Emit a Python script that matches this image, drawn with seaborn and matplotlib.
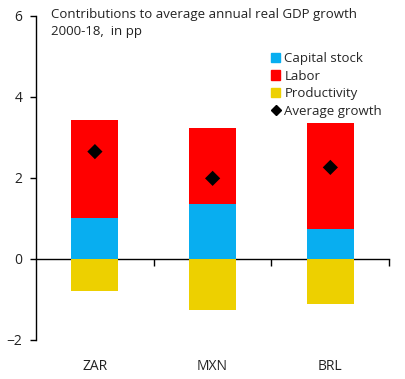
import matplotlib
matplotlib.use("Agg")
import matplotlib.pyplot as plt
from matplotlib.patches import Patch
from matplotlib.lines import Line2D
import seaborn as sns
import pandas as pd

# values (pp)
countries = ["ZAR", "MXN", "BRL"]
capital = [1.02, 1.36, 0.73]
labor = [2.42, 1.88, 2.63]
productivity = [-0.80, -1.27, -1.11]
avg_growth = [2.65, 1.99, 2.26]

col_capital = "#08AEF0"
col_labor = "#FF0000"
col_prod = "#EDD000"

sns.set_theme(style="white")
plt.rcParams['font.family'] = ['Open Sans', 'DejaVu Sans']

df = pd.DataFrame({"country": countries, "capital": capital, "labor": labor,
                   "productivity": productivity, "avg": avg_growth})

fig = plt.figure(figsize=(4.05, 3.79), dpi=100)
ax = fig.add_axes([0.089, 0.103, 0.872, 0.855])

bar_kw = dict(width=0.4, saturation=1, linewidth=0, ax=ax)
sns.barplot(data=df, x="country", y="capital", color=col_capital, **bar_kw)
sns.barplot(data=df, x="country", y="labor", bottom=df["capital"], color=col_labor, **bar_kw)
sns.barplot(data=df, x="country", y="productivity", color=col_prod, **bar_kw)
sns.scatterplot(data=df, x="country", y="avg", marker="D", s=60, color="black",
                edgecolor="none", ax=ax, zorder=5)

ax.set_ylim(-2, 6)
ax.set_xlim(-0.5, 2.5)
ax.set_yticks([-2, 0, 2, 4, 6])
ax.set_xlabel("")
ax.set_ylabel("")

for s in ["top", "right", "bottom"]:
    ax.spines[s].set_visible(False)
ax.spines["left"].set_color("black")
ax.spines["left"].set_linewidth(1)
ax.tick_params(axis="y", direction="out", length=4, width=1, color="black",
               labelsize=10, pad=6, left=True)
ax.tick_params(axis="x", length=0, labelsize=10, pad=14)
for lab in ax.get_xticklabels() + ax.get_yticklabels():
    lab.set_color("#222222")

# zero line with ticks between the categories
zero = ax.secondary_xaxis(0.25)
zero.set_xticks([0.5, 1.5, 2.5])
zero.tick_params(direction="out", length=5, width=1, color="black", labelbottom=False)
zero.spines["bottom"].set_color("black")
zero.spines["bottom"].set_linewidth(1)

ax.text(0.042, 1.025, "Contributions to average annual real GDP growth\n2000-18,  in pp",
        transform=ax.transAxes, ha="left", va="top", fontsize=9.5,
        linespacing=1.45, color="#222222")

handles = [Patch(color=col_capital, label="Capital stock"),
           Patch(color=col_labor, label="Labor"),
           Patch(color=col_prod, label="Productivity"),
           Line2D([], [], marker="D", color="black", linestyle="none",
                  markersize=5, label="Average growth")]
ax.legend(handles=handles, loc="upper right", bbox_to_anchor=(0.995, 0.905),
          frameon=False, fontsize=9.5, handlelength=0.7, handleheight=0.7,
          handletextpad=0.3, labelspacing=0.35, borderaxespad=0)

fig.savefig("out.png", dpi=100)
